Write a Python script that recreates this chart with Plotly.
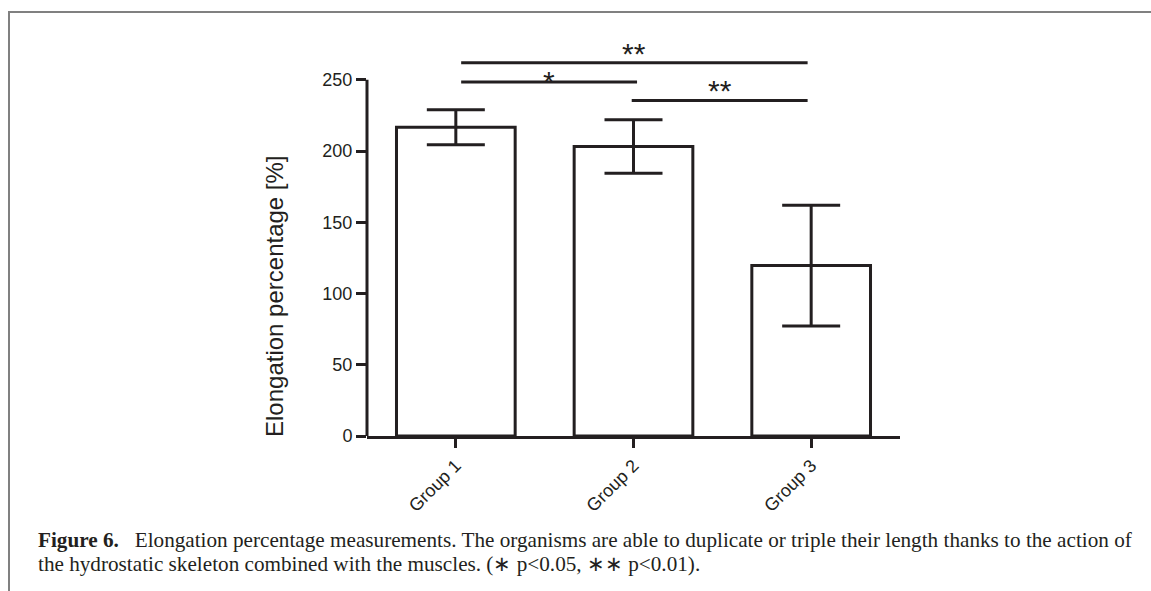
import plotly.graph_objects as go

# ---------------- data ----------------
categories = ["Group 1", "Group 2", "Group 3"]
means = [216.6, 203.2, 119.6]
errors = [12.3, 18.8, 42.4]
y_ticks = [0, 50, 100, 150, 200, 250]
# significance comparisons between groups (index pairs), bracket heights and labels
sig_left = [0, 0, 1]
sig_right = [2, 1, 2]
sig_height = [262, 248.5, 235.5]
sig_labels = ["**", "*", "**"]
y_title = "Elongation percentage [%]"
caption_lines = [
    "<b>Figure 6.</b>\u00a0\u00a0 Elongation percentage measurements. The organisms are able to duplicate or triple their length thanks to the action of",
    "the hydrostatic skeleton combined with the muscles. (\u2217 p&lt;0.05, \u2217\u2217 p&lt;0.01).",
]

# ---------------- layout geometry ----------------
W, H = 1151, 591
ML, MR, MT, MB = 367, 251, 37, 155
PW, PH = W - ML - MR, H - MT - MB
INK = "#231f20"
SANS = "Liberation Sans, Arial, sans-serif"
SERIF = "Liberation Serif, Times New Roman, serif"


def px_x(px):
    return (px - ML) / PW


def px_y(py):
    return (H - MB - py) / PH


fig = go.Figure()
fig.add_trace(
    go.Bar(
        x=list(range(len(categories))),
        y=means,
        width=0.668,
        marker=dict(color="white", line=dict(color=INK, width=3)),
        error_y=dict(type="data", array=errors, visible=True, color=INK, thickness=3, width=29),
        showlegend=False,
        hoverinfo="skip",
    )
)

shapes = []
# y axis line (only up to the last tick)
shapes.append(dict(type="line", xref="paper", yref="y", x0=0, x1=0, y0=-1.5 / (PH / 280), y1=y_ticks[-1],
                   line=dict(color=INK, width=3), layer="above"))
annotations = []
for a, b, h, lab in zip(sig_left, sig_right, sig_height, sig_labels):
    x0 = a + (0.03 if a == 0 else -0.01)
    x1 = b + (-0.02 if b == 2 else 0.02)
    shapes.append(dict(type="line", xref="x", yref="y", x0=x0, x1=x1, y0=h, y1=h,
                       line=dict(color=INK, width=3)))
    annotations.append(dict(x=(x0 + x1) / 2, y=h, xref="x", yref="y", text=lab, showarrow=False,
                            xanchor="center", yanchor="bottom", yshift=(-9 if len(lab) > 1 else -18),
                            font=dict(family=SANS, size=30, color=INK)))

# y axis title
annotations.append(dict(x=px_x(274), y=px_y(296), xref="paper", yref="paper", text=y_title, textangle=-90,
                        showarrow=False, xanchor="center", yanchor="middle",
                        font=dict(family=SANS, size=24, color=INK)))

# frame lines of the figure panel
shapes.append(dict(type="line", xref="paper", yref="paper", x0=px_x(8), x1=px_x(1160), y0=px_y(12), y1=px_y(12),
                   line=dict(color="#808080", width=2)))
shapes.append(dict(type="line", xref="paper", yref="paper", x0=px_x(9), x1=px_x(9), y0=px_y(11), y1=px_y(600),
                   line=dict(color="#808080", width=2)))

# caption
for i, (line, base) in enumerate(zip(caption_lines, [547, 571])):
    annotations.append(dict(x=px_x(36), y=px_y(base - 7), xref="paper", yref="paper", xanchor="left",
                            yanchor="middle", align="left", showarrow=False, text=line,
                            font=dict(family=SERIF, size=21.2, color=INK)))

fig.update_layout(
    width=W, height=H,
    margin=dict(l=ML, r=MR, t=MT, b=MB, autoexpand=False),
    paper_bgcolor="white", plot_bgcolor="white",
    font=dict(family=SANS, color=INK, size=18),
    shapes=shapes, annotations=annotations,
    bargap=0.332,
)
fig.update_xaxes(
    range=[-0.5, 2.5], tickmode="array", tickvals=list(range(len(categories))), ticktext=categories,
    showline=True, linecolor=INK, linewidth=3, ticks="outside", ticklen=9, tickwidth=3, tickcolor=INK,
    tickangle=-45, showgrid=False, zeroline=False, tickfont=dict(size=18, color=INK),
)
fig.update_yaxes(
    range=[0, 280], tickmode="array", tickvals=y_ticks, showline=False,
    ticks="outside", ticklen=10, tickwidth=3, tickcolor=INK, showgrid=False, zeroline=False,
    tickfont=dict(size=18, color=INK),
)

fig.write_html("out.html", config={"displayModeBar": False},
               post_script="document.body.style.margin='0';document.body.style.overflow='hidden';")
